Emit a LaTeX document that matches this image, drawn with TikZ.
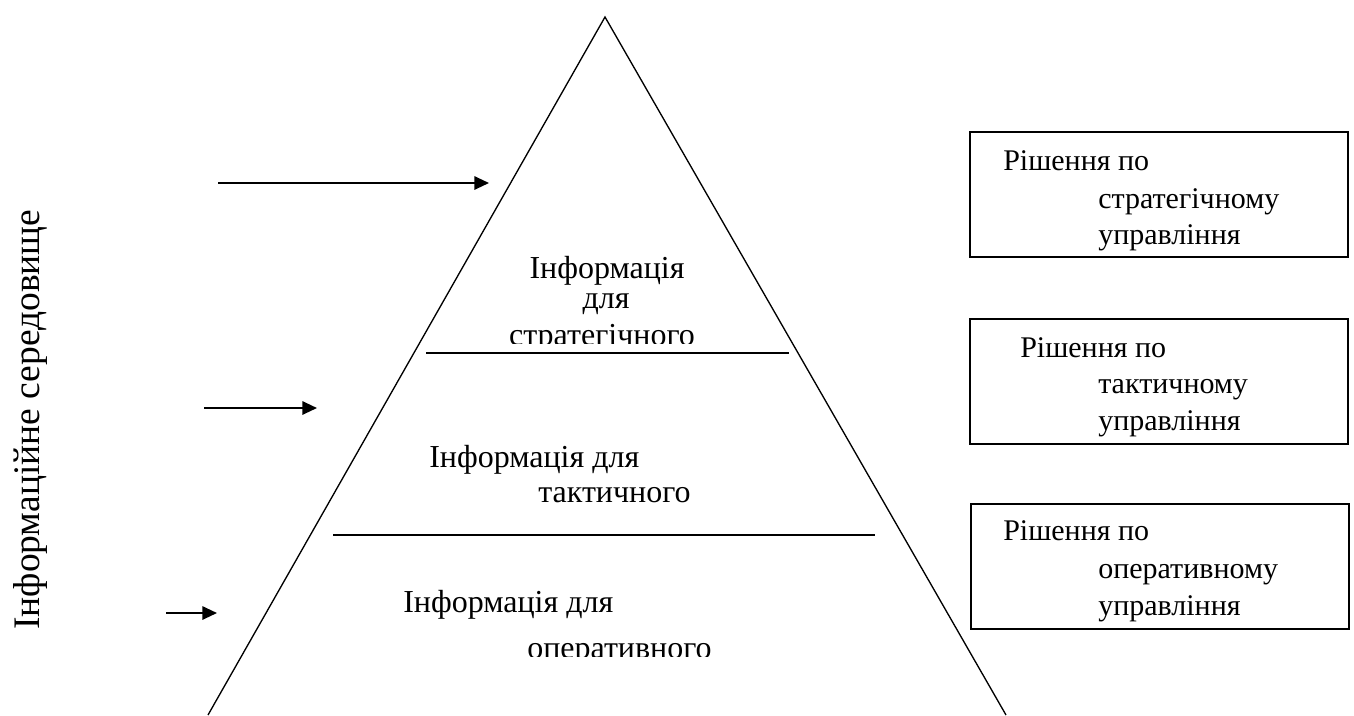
\documentclass[tikz,border=0pt]{standalone}
\usepackage{fontspec}
\newfontfamily\timesfam{LiberationSerif}[Extension=.ttf,UprightFont=*-Regular]
\usetikzlibrary{arrows.meta}
\begin{document}
\begin{tikzpicture}[x=0.75pt,y=-0.75pt,
  edge/.style={line width=1pt},
  divider/.style={line width=1.5pt},
  flow/.style={line width=1.5pt,-{Triangle[length=11pt,width=10pt]}},
  decision/.style={draw,line width=1.4pt,minimum width=283.5pt,minimum height=93.75pt,
    anchor=north west,inner sep=0pt},
  level/.style={font=\timesfam\fontsize{24}{28}\selectfont,inner sep=0pt},
  boxtext/.style={font=\timesfam\fontsize{22.5}{27}\selectfont,inner sep=0pt,anchor=base west},
  envtext/.style={font=\timesfam\fontsize{28.1}{34}\selectfont,inner sep=0pt,rotate=90,anchor=base west},
]
\useasboundingbox (0,0) rectangle (1354,715);

% pyramid outline
\coordinate (apex) at (605,17);
\coordinate (bl) at (208,715);
\coordinate (br) at (1006,715);
\draw[edge] (bl) -- (apex) -- (br);

% level dividers
\coordinate (d1a) at (426,353);
\coordinate (d1b) at (789,353);
\coordinate (d2a) at (333,535);
\coordinate (d2b) at (875,535);
\draw[divider] (d1a) -- (d1b);
\draw[divider] (d2a) -- (d2b);

% incoming information arrows
\coordinate (a1s) at (218,183);
\coordinate (a1e) at (489,183);
\coordinate (a2s) at (204,408);
\coordinate (a2e) at (317,408);
\coordinate (a3s) at (166,613);
\coordinate (a3e) at (217,613);
\draw[flow] (a1s) -- (a1e);
\draw[flow] (a2s) -- (a2e);
\draw[flow] (a3s) -- (a3e);

% environment label
\node[envtext] (env) at (40,630) {Інформаційне середовище};

% strategic level
\begin{scope}
  \clip (0,0) rectangle (1354,343);
  \node[level,anchor=base] (s1) at (607,278) {Інформація};
  \node[level,anchor=base] (s2) at (606,308) {для};
  \node[level,anchor=base] (s3) at (602,345) {стратегічного};
\end{scope}

% tactical level
\node[level,anchor=base west] (t1) at (429,467) {Інформація для};
\node[level,anchor=base west] (t2) at (538,502) {тактичного};

% operational level
\begin{scope}
  \clip (0,0) rectangle (1354,656);
  \node[level,anchor=base west] (o1) at (403,612) {Інформація для};
  \node[level,anchor=base west] (o2) at (527,658) {оперативного};
\end{scope}

% decision boxes
\node[decision] (b1) at (969,131) {};
\node[decision] (b2) at (969,318) {};
\node[decision] (b3) at (970,503) {};

\node[boxtext] (b1a) at (1003,170) {Рішення по};
\node[boxtext] (b1b) at (1098,208) {стратегічному};
\node[boxtext] (b1c) at (1098,244) {управління};

\node[boxtext] (b2a) at (1020,357) {Рішення по};
\node[boxtext] (b2b) at (1098,393) {тактичному};
\node[boxtext] (b2c) at (1098,430) {управління};

\node[boxtext] (b3a) at (1003,540) {Рішення по};
\node[boxtext] (b3b) at (1098,578) {оперативному};
\node[boxtext] (b3c) at (1098,615) {управління};
\end{tikzpicture}
\end{document}
